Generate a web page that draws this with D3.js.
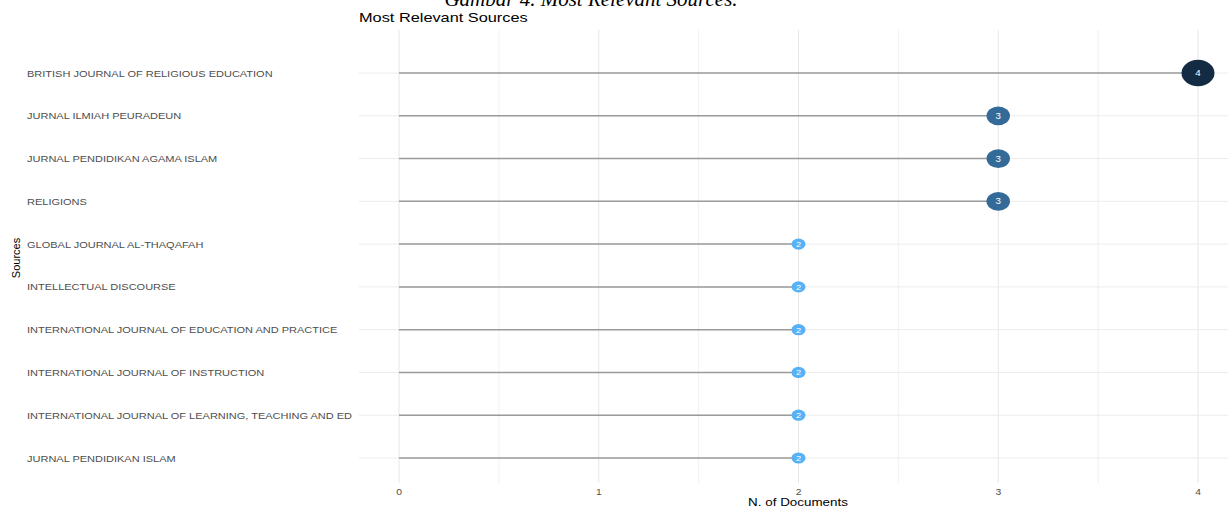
<!DOCTYPE html>
<html><head><meta charset="utf-8">
<script src="https://cdn.jsdelivr.net/npm/d3@7"></script>
<style>body{margin:0;background:#fff}svg{display:block}</style>
</head><body>
<svg id="c" width="1228" height="508"></svg>
<script>
const sources = [
  "BRITISH JOURNAL OF RELIGIOUS EDUCATION",
  "JURNAL ILMIAH PEURADEUN",
  "JURNAL PENDIDIKAN AGAMA ISLAM",
  "RELIGIONS",
  "GLOBAL JOURNAL AL-THAQAFAH",
  "INTELLECTUAL DISCOURSE",
  "INTERNATIONAL JOURNAL OF EDUCATION AND PRACTICE",
  "INTERNATIONAL JOURNAL OF INSTRUCTION",
  "INTERNATIONAL JOURNAL OF LEARNING, TEACHING AND ED",
  "JURNAL PENDIDIKAN ISLAM"
];
const documents = [4, 3, 3, 3, 2, 2, 2, 2, 2, 2];
const xTicks = [0, 1, 2, 3, 4];
const xMinor = [0.5, 1.5, 2.5, 3.5];

const svg = d3.select("#c");
const font = "'Liberation Sans', Arial, sans-serif";

const x = d3.scaleLinear().domain([0, 4]).range([399, 1198]);
const y = d3.scalePoint().domain(sources).range([73, 458]);
const panelTop = 30, panelBottom = 483, panelLeft = 359, panelRight = 1238;

const color = d3.scaleLinear().domain([2, 4]).range(["#56B1F7", "#132B43"]).interpolate(d3.interpolateLab);
const rx = d3.scaleLinear().domain([2, 4]).range([7, 16.5]);

// caption (cut off at top, as in the reference)
svg.append("text").attr("x", 591).attr("y", 6).attr("text-anchor", "middle")
  .attr("font-family", "'Liberation Serif', 'Times New Roman', serif").attr("font-style", "italic")
  .attr("font-size", 21).attr("fill", "#000").text("Gambar 4. Most Relevant Sources.");

// grid
const g = svg.append("g");
g.selectAll(".vmin").data(xMinor).join("line")
  .attr("x1", d => x(d)).attr("x2", d => x(d)).attr("y1", panelTop).attr("y2", panelBottom)
  .attr("stroke", "#ededed").attr("stroke-width", 0.8);
g.selectAll(".vmaj").data(xTicks).join("line")
  .attr("x1", d => x(d)).attr("x2", d => x(d)).attr("y1", panelTop).attr("y2", panelBottom)
  .attr("stroke", "#e6e6e6").attr("stroke-width", 1);
g.selectAll(".h").data(sources).join("line")
  .attr("x1", panelLeft).attr("x2", panelRight).attr("y1", d => y(d)).attr("y2", d => y(d))
  .attr("stroke", "#ececec").attr("stroke-width", 1);

// title
svg.append("text").attr("transform", "translate(359,22) scale(1.21,1)").attr("font-family", font).attr("font-size", 13.5)
  .attr("fill", "#000").text("Most Relevant Sources");

// segments
svg.selectAll(".seg").data(sources).join("line")
  .attr("x1", x(0)).attr("x2", (d, i) => x(documents[i]))
  .attr("y1", d => y(d)).attr("y2", d => y(d))
  .attr("stroke", "#9a9a9a").attr("stroke-width", 1.5);

// points
svg.selectAll(".pt").data(sources).join("ellipse")
  .attr("cx", (d, i) => x(documents[i])).attr("cy", d => y(d))
  .attr("rx", (d, i) => rx(documents[i])).attr("ry", (d, i) => rx(documents[i]) * 0.8)
  .attr("fill", (d, i) => color(documents[i]));
svg.selectAll(".pl").data(sources).join("text")
  .attr("transform", (d, i) => `translate(${x(documents[i])},${y(d) + 3}) scale(1.15,1)`)
  .attr("text-anchor", "middle").attr("font-family", font)
  .attr("font-size", (d, i) => documents[i] > 2 ? 8.5 : 8).attr("fill", "#fff")
  .text((d, i) => documents[i]);

// y labels
svg.selectAll(".yl").data(sources).join("text")
  .attr("transform", d => `translate(27,${y(d) + 3.5}) scale(1.16,1)`)
  .attr("font-family", font).attr("font-size", 9.5)
  .attr("fill", "#4d4d4d").text(d => d);

// x tick labels
svg.selectAll(".xl").data(xTicks).join("text")
  .attr("transform", d => `translate(${x(d)},495) scale(1.15,1)`)
  .attr("text-anchor", "middle").attr("font-family", font)
  .attr("font-size", 9).attr("fill", "#4d4d4d").text(d => d);

// axis titles
svg.append("text").attr("transform", "translate(798,505.5) scale(1.22,1)").attr("text-anchor", "middle")
  .attr("font-family", font).attr("font-size", 11).attr("fill", "#000").text("N. of Documents");
svg.append("text").attr("transform", "translate(20,258) rotate(-90)").attr("text-anchor", "middle")
  .attr("font-family", font).attr("font-size", 11).attr("fill", "#000").text("Sources");
</script>
</body></html>
